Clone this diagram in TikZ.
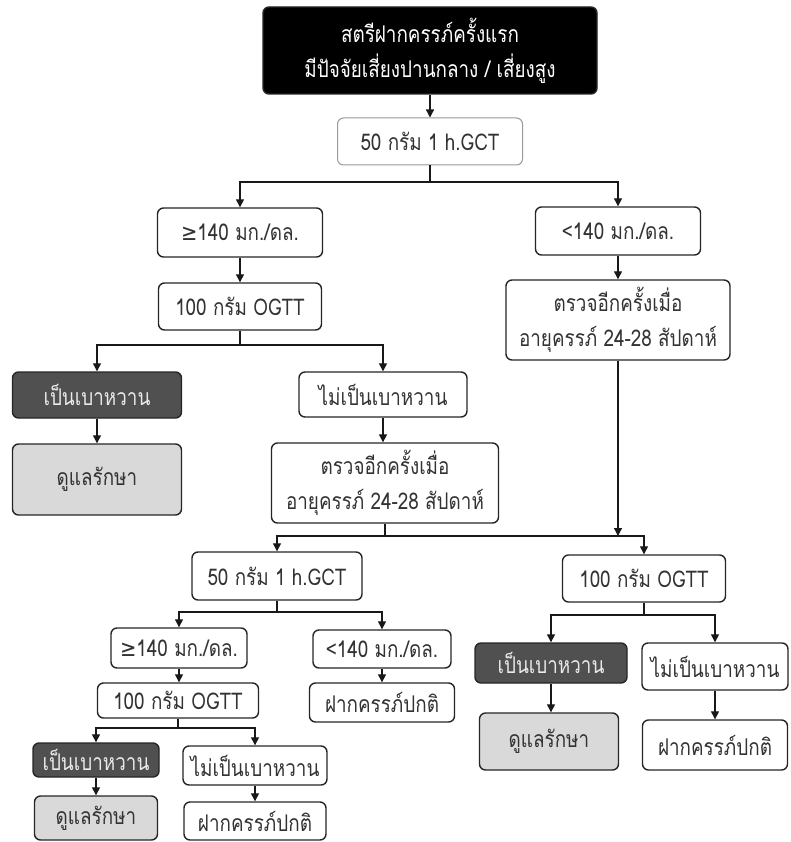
\documentclass[tikz,border=0pt]{standalone}
\usepackage{fontspec}
\setmainfont[Script=Thai, FakeStretch=0.82]{Loma}
\newfontfamily\symfont[FakeStretch=0.85]{DejaVu Sans}
\usetikzlibrary{arrows.meta}
\definecolor{txt}{HTML}{333333}
\definecolor{darkfill}{HTML}{505050}
\definecolor{lightfill}{HTML}{D9D9D9}
\definecolor{lighttxt}{HTML}{EAEAEA}
\begin{document}
\begin{tikzpicture}[x=1pt,y=-1pt,
  box/.style={draw=black!85, line width=1.4pt, rounded corners=6pt, fill=white, text=txt,
    inner sep=0pt, align=center, font=\fontsize{23}{35}\selectfont},
  dark/.style={box, fill=darkfill, text=lighttxt},
  light/.style={box, fill=lightfill},
  arr/.style={-{Triangle[length=8pt,width=8pt]}, line width=1.3pt, draw=black!90},
  ln/.style={line width=1.3pt, draw=black!90},
  sz/.style 2 args={minimum width=#1pt, minimum height=#2pt}]
\useasboundingbox (0,0) rectangle (790,842);
% nodes
\node[box, fill=black, text=white, sz={334}{87}] (top) at (430,50.5) {สตรีฝากครรภ์ครั้งแรก\\มีปัจจัยเสี่ยงปานกลาง / เสี่ยงสูง};
\node[box, draw=black!40, line width=1pt, sz={185}{47}] (g50a) at (430,141.5) {50 กรัม 1 h.GCT};
\node[box, sz={165}{49}] (geL) at (240,232.5) {{\symfont ≥}140 มก./ดล.};
\node[box, sz={165}{48}] (ltR) at (618,231) {<140 มก./ดล.};
\node[box, sz={163}{47}] (ogttL) at (240,306.5) {100 กรัม OGTT};
\node[box, sz={224}{80}] (recR) at (618,320) {ตรวจอีกครั้งเมื่อ\\อายุครรภ์ 24-28 สัปดาห์};
\node[dark, sz={169}{46}] (dmA) at (97,395) {เป็นเบาหวาน};
\node[light, sz={169}{71}] (careA) at (97,479.5) {ดูแลรักษา};
\node[box, sz={168}{45}] (ndmA) at (383,394.5) {ไม่เป็นเบาหวาน};
\node[box, sz={227}{80}] (recM) at (385,483) {ตรวจอีกครั้งเมื่อ\\อายุครรภ์ 24-28 สัปดาห์};
\node[box, sz={170}{48}] (g50b) at (277,576) {50 กรัม 1 h.GCT};
\node[box, sz={163}{47}] (ogttR) at (644,578.5) {100 กรัม OGTT};
\node[dark, sz={152}{40}] (dmR) at (551,663) {เป็นเบาหวาน};
\node[light, sz={139}{57}] (careR) at (549,741.5) {ดูแลรักษา};
\node[box, sz={146}{47}] (ndmR) at (715,666.5) {ไม่เป็นเบาหวาน};
\node[box, sz={145}{50}] (normR) at (715,745) {ฝากครรภ์ปกติ};
\node[box, sz={136}{40}] (geB) at (179,648) {{\symfont ≥}140 มก./ดล.};
\node[box, sz={138}{38}] (ltB) at (382,649) {<140 มก./ดล.};
\node[box, sz={145}{39}] (normM) at (382,702.5) {ฝากครรภ์ปกติ};
\node[box, sz={161}{35}] (ogttB) at (178,700.5) {100 กรัม OGTT};
\node[dark, sz={126}{34}] (dmB) at (96,760) {เป็นเบาหวาน};
\node[light, sz={123}{44}] (careB) at (96,818) {ดูแลรักษา};
\node[box, sz={144}{39}] (ndmB) at (255,765.5) {ไม่เป็นเบาหวาน};
\node[box, sz={142}{38}] (normB) at (255,821) {ฝากครรภ์ปกติ};
% junctions
\coordinate (j1) at (430,182);
\coordinate (j2) at (240,345);
\coordinate (j3) at (385,536);
\coordinate (j4) at (644,615);
\coordinate (j5) at (277,612);
\coordinate (j6) at (178,728);
% connectors
\draw[arr] (top) -- (g50a);
\draw[ln] (g50a.south) -- (j1);
\draw[arr] (j1) -| (geL.north);
\draw[arr] (j1) -| (ltR.north);
\draw[arr] (geL) -- (ogttL);
\draw[arr] (ltR) -- (recR);
\draw[ln] (ogttL.south) -- (j2);
\draw[arr] (j2) -| (dmA.north);
\draw[arr] (j2) -| (ndmA.north);
\draw[arr] (dmA) -- (careA);
\draw[arr] (ndmA.south) -- (ndmA.south |- recM.north);
\draw[ln] (recM.south) -- (j3);
\draw[arr] (j3) -| (g50b.north);
\draw[arr] (j3) -| (ogttR.north);
\draw[arr] (recR.south) -- (recR.south |- j3);
\draw[ln] (ogttR.south) -- (j4);
\draw[arr] (j4) -| (dmR.north);
\draw[arr] (j4) -| (ndmR.north);
\draw[arr] (dmR.south) -- (dmR.south |- careR.north);
\draw[arr] (ndmR) -- (normR);
\draw[ln] (g50b.south) -- (j5);
\draw[arr] (j5) -| (geB.north);
\draw[arr] (j5) -| (ltB.north);
\draw[arr] (geB.south) -- (geB.south |- ogttB.north);
\draw[arr] (ltB) -- (normM);
\draw[ln] (ogttB.south) -- (j6);
\draw[arr] (j6) -| (dmB.north);
\draw[arr] (j6) -| (ndmB.north);
\draw[arr] (dmB) -- (careB);
\draw[arr] (ndmB) -- (normB);
\end{tikzpicture}
\end{document}
